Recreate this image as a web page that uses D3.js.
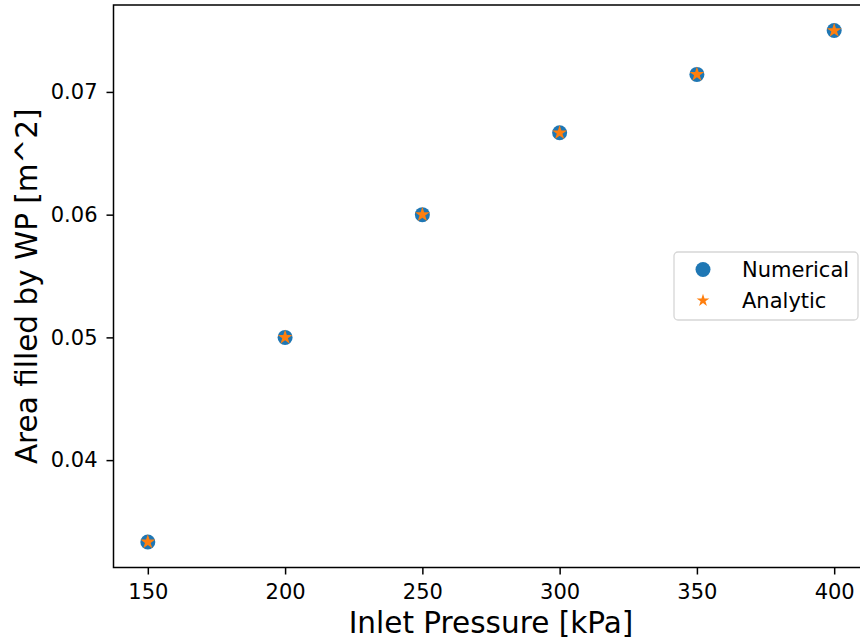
<!DOCTYPE html>
<html>
<head>
<meta charset="utf-8">
<script src="https://cdn.jsdelivr.net/npm/d3@7"></script>
<style>
  body { margin: 0; background: #fff; }
  svg { font-family: "DejaVu Sans", sans-serif; }
</style>
</head>
<body>
<script>
// data
var pressure = [150, 200, 250, 300, 350, 400];
var numerical = [0.03333, 0.05, 0.06, 0.06667, 0.07143, 0.075];
var analytic = [0.03333, 0.05, 0.06, 0.06667, 0.07143, 0.075];
var xTicks = [150, 200, 250, 300, 350, 400];
var yTicks = [0.04, 0.05, 0.06, 0.07];

var w = 860, h = 642;
// plot area (window.top is reserved, so use other names)
var pLeft = 113.5, pRight = 868.5, pTop = 5, pBottom = 567.5;

var svg = d3.select("body").append("svg")
    .attr("width", w)
    .attr("height", h);

// matplotlib style 5% margins
var x = d3.scaleLinear().domain([137.5, 412.5]).range([pLeft, pRight]);
var y = d3.scaleLinear().domain([0.031250, 0.077083]).range([pBottom, pTop]);

var xAxis = svg.append("g")
    .attr("transform", "translate(0," + pBottom + ")")
    .call(d3.axisBottom(x).tickValues(xTicks).tickSize(7).tickPadding(10).tickFormat(d3.format("d")));
var yAxis = svg.append("g")
    .attr("transform", "translate(" + pLeft + ",0)")
    .call(d3.axisLeft(y).tickValues(yTicks).tickSize(7).tickPadding(9).tickFormat(d3.format(".2f")));

[xAxis, yAxis].forEach(function (g) {
  g.attr("font-size", null).attr("font-family", null);
  g.select(".domain").remove();
  g.selectAll(".tick line").attr("stroke", "#000").attr("stroke-width", 1.5);
  g.selectAll(".tick text")
   .attr("fill", "#000")
   .style("font-size", "21px")
   .style("font-family", "DejaVu Sans");
});

// frame
svg.append("rect")
   .attr("x", pLeft).attr("y", pTop)
   .attr("width", pRight - pLeft).attr("height", pBottom - pTop)
   .attr("fill", "none").attr("stroke", "#000").attr("stroke-width", 1.5);

// Numerical points
svg.selectAll("circle.num")
   .data(pressure)
   .enter()
   .append("circle")
   .attr("class", "num")
   .attr("cx", function (d) { return x(d); })
   .attr("cy", function (d, i) { return y(numerical[i]); })
   .attr("r", 7.5)
   .attr("fill", "#1f77b4");

// Analytic stars
var star = d3.symbol().type(d3.symbolStar).size(68);
svg.selectAll("path.ana")
   .data(pressure)
   .enter()
   .append("path")
   .attr("class", "ana")
   .attr("d", star)
   .attr("transform", function (d, i) {
       return "translate(" + x(d) + "," + y(analytic[i]) + ")";
    })
   .attr("fill", "#ff7f0e");

// axis labels
svg.append("text")
   .attr("x", 491)
   .attr("y", 633)
   .attr("text-anchor", "middle")
   .style("font-size", "29.5px")
   .text("Inlet Pressure [kPa]");

svg.append("text")
   .attr("transform", "translate(37," + ((pTop + pBottom) / 2) + ") rotate(-90)")
   .attr("text-anchor", "middle")
   .style("font-size", "29.5px")
   .text("Area filled by WP [m^2]");

// legend
var lg = svg.append("g").attr("transform", "translate(674,252)");
lg.append("rect")
  .attr("width", 184).attr("height", 68)
  .attr("rx", 4)
  .attr("fill", "#fff").attr("fill-opacity", 0.8)
  .attr("stroke", "#d6d6d6").attr("stroke-width", 1.3);
lg.append("circle").attr("cx", 29).attr("cy", 17.5).attr("r", 7.5).attr("fill", "#1f77b4");
lg.append("path").attr("d", d3.symbol().type(d3.symbolStar).size(50))
  .attr("transform", "translate(29,48.5)").attr("fill", "#ff7f0e");
lg.append("text").attr("x", 68).attr("y", 25).style("font-size", "21px").text("Numerical");
lg.append("text").attr("x", 68).attr("y", 56).style("font-size", "21px").text("Analytic");
</script>
</body>
</html>
